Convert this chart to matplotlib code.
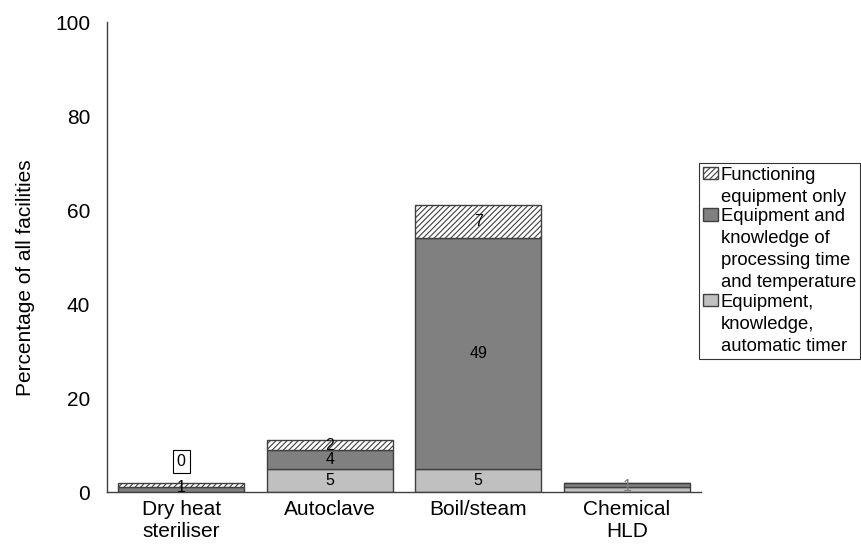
import matplotlib
matplotlib.use("Agg")
import matplotlib.pyplot as plt
import numpy as np

plt.rcParams['font.family'] = ['Liberation Sans', 'DejaVu Sans']
plt.rcParams['hatch.linewidth'] = 0.8

categories = ["Dry heat\nsteriliser", "Autoclave", "Boil/steam", "Chemical\nHLD"]
timer = [0, 5, 5, 1]
knowledge = [1, 4, 49, 1]
functioning = [1, 2, 7, 0]

series_names = ["Equipment,\nknowledge,\nautomatic timer",
                "Equipment and\nknowledge of\nprocessing time\nand temperature",
                "Functioning\nequipment only"]

fig = plt.figure(figsize=(8.62, 5.52), dpi=100)
ax = fig.add_axes([107/862, 1-492/552, (701-107)/862, (492-22)/552])

x = np.arange(len(categories))
w = 0.85
edge = '#404040'
b1 = ax.bar(x, timer, w, color='#c0c0c0', edgecolor=edge, linewidth=1.0, label=series_names[0])
b2 = ax.bar(x, knowledge, w, bottom=timer, color='#808080', edgecolor=edge, linewidth=1.0, label=series_names[1])
bottom3 = np.array(timer) + np.array(knowledge)
b3 = ax.bar(x, functioning, w, bottom=bottom3, color='white', edgecolor=edge, linewidth=1.0,
            hatch='//////', label=series_names[2])

fs_lab = 11.5
# value labels
for i in range(len(categories)):
    t, k, f = timer[i], knowledge[i], functioning[i]
    if i == 0:
        ax.text(x[i], 6.5, "0", ha='center', va='center', fontsize=fs_lab,
                bbox=dict(boxstyle='square,pad=0.25', fc='white', ec='black', lw=0.8))
        ax.text(x[i], 1.0, str(k), ha='center', va='center', fontsize=fs_lab, color='black')
    elif i == 3:
        ax.text(x[i], 1.1, str(t), ha='center', va='center', fontsize=fs_lab, color='#808080')
    else:
        ax.text(x[i], t/2, str(t), ha='center', va='center', fontsize=fs_lab)
        ax.text(x[i], t + k/2, str(k), ha='center', va='center', fontsize=fs_lab)
        ax.text(x[i], t + k + f/2, str(f), ha='center', va='center', fontsize=fs_lab)

ax.set_xlim(-0.5, 3.5)
ax.set_ylim(0, 100)
ax.set_yticks([0, 20, 40, 60, 80, 100])
ax.set_xticks(x)
ax.set_xticklabels(categories, fontsize=15)
ax.tick_params(axis='both', length=0, labelsize=15)
ax.tick_params(axis='y', pad=12)
ax.tick_params(axis='x', pad=6)
for s in ['top', 'right']:
    ax.spines[s].set_visible(False)
for s in ['left', 'bottom']:
    ax.spines[s].set_color('#404040')
    ax.spines[s].set_linewidth(1.0)
ax.set_ylabel("Percentage of all facilities", fontsize=15)
ax.yaxis.set_label_coords(-0.121, 0.457)

handles = [b3, b2, b1]
labels = [series_names[2], series_names[1], series_names[0]]
leg = fig.legend(handles, labels, loc='upper left', bbox_to_anchor=(699/862, 1-163/552),
                 frameon=True, fancybox=False, fontsize=13.3, handlelength=0.85,
                 handleheight=0.65, handletextpad=0.12, borderpad=0.2, labelspacing=0.15,
                 borderaxespad=0)
leg.get_frame().set_edgecolor('black')
leg.get_frame().set_linewidth(0.8)
for t in leg.get_texts():
    t.set_linespacing(1.38)
for col in leg._legend_handle_box.get_children():
    for hp in col.get_children():
        hp.align = 'top'

fig.savefig("out.png", dpi=100)
